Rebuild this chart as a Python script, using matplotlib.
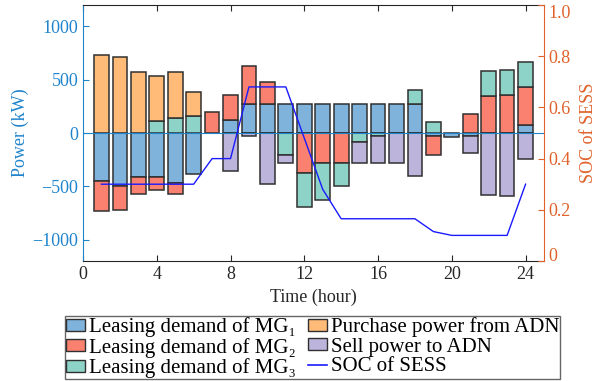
import numpy as np
import matplotlib
matplotlib.use("Agg")
import matplotlib.pyplot as plt
from matplotlib.patches import Patch
from matplotlib.lines import Line2D

plt.rcParams['font.family'] = ['Liberation Serif', 'DejaVu Serif']

hours = list(range(1, 25))
mg1 = [-446, -493, -415, -415, -468, -381, 0, 122, 275, 275, 275, 275,
       275, 275, 275, 275, 275, 275, -28, -35, -25, 0, 0, 75]
mg2 = [-281, -225, -153, -122, -103, 0, 200, 231, 355, 202, 0, -374,
       -281, -281, 0, 0, 0, 0, -181, 0, 175, 343, 353, 356]
mg3 = [0, 0, 0, 109, 137, 159, 0, 0, 0, 0, -203, -322,
       -346, -218, -87, -25, 0, 131, 106, 0, 0, 234, 234, 230]
purchase = [727, 714, 568, 424, 437, 225, 0, 0, 0, 0, 0, 0,
            0, 0, 0, 0, 0, 0, 0, 0, 0, 0, 0, 0]
sell = [0, 0, 0, 0, 0, 0, 0, -353, -31, -477, -78, 0,
        0, 0, -194, -256, -281, -406, 0, 0, -159, -577, -587, -243]
soc = [0.30, 0.30, 0.30, 0.30, 0.30, 0.30, 0.40, 0.40, 0.68, 0.68, 0.68, 0.48,
       0.28, 0.165, 0.165, 0.165, 0.165, 0.165, 0.115, 0.10, 0.10, 0.10, 0.10, 0.30]

labels = ['Leasing demand of MG\u2081', 'Leasing demand of MG\u2082',
          'Leasing demand of MG\u2083', 'Purchase power from ADN',
          'Sell power to ADN']
soc_label = 'SOC of SESS'
colors = ['#7fb3dc', '#fa8070', '#8dd3c7', '#ffbb77', '#bdb4dc']
series = [mg1, mg2, mg3, purchase, sell]

BLUE = '#1f84cc'
ORANGE = '#e0622a'
EDGE = '#303030'
FS = 13
LFS = 15

fig = plt.figure(figsize=(6.13, 3.81), dpi=100)
ax = fig.add_axes([83/613, 1-261/381, (544-83)/613, (261-5)/381])

x = np.array(hours, dtype=float)
pos_b = np.zeros(len(x))
neg_b = np.zeros(len(x))
for vals, c in zip(series, colors):
    v = np.array(vals, dtype=float)
    bottom = np.where(v >= 0, pos_b, neg_b)
    m = v != 0
    ax.bar(x[m], v[m], width=0.8, bottom=bottom[m], color=c,
           edgecolor=EDGE, linewidth=1.1, zorder=2)
    pos_b = pos_b + np.where(v > 0, v, 0)
    neg_b = neg_b + np.where(v < 0, v, 0)

ax.axhline(0, color=BLUE, lw=0.8, zorder=3)
ax.set_xlim(0, 25)
ax.set_ylim(-1200, 1200)
ax.set_xticks([0, 4, 8, 12, 16, 20, 24])
ax.set_yticks([-1000, -500, 0, 500, 1000])
ax.set_yticklabels(['\u22121000', '\u2212500', '0', '500', '1000'])
ax.tick_params(axis='y', colors=BLUE, labelsize=FS, direction='in', length=4)
ax.tick_params(axis='x', colors='#262626', labelsize=FS, direction='in',
               length=4, top=True)
ax.set_xlabel('Time (hour)', fontsize=FS, color='#262626', labelpad=4)
ax.set_ylabel('Power (kW)', fontsize=FS, color=BLUE, labelpad=2)
ax.spines['left'].set_color(BLUE)
ax.spines['right'].set_visible(False)
ax.spines['top'].set_color('#262626')
ax.spines['bottom'].set_color('#262626')

ax2 = ax.twinx()
ax2.plot(hours, soc, color='#1a1aff', lw=1.0, zorder=4)
ax2.set_ylim(0, 1)
ax2.set_yticks([0, 0.2, 0.4, 0.6, 0.8, 1.0])
ax2.set_yticklabels(['0', '0.2', '0.4', '0.6', '0.8', '1.0'])
ax2.tick_params(axis='y', colors=ORANGE, labelsize=FS, direction='in', length=4)
ax2.set_ylabel('SOC of SESS', fontsize=FS, color=ORANGE, labelpad=6)
ax2.spines['right'].set_color(ORANGE)
ax2.spines['left'].set_visible(False)
ax2.spines['top'].set_visible(False)
ax2.spines['bottom'].set_visible(False)
ticks2 = ax2.yaxis.get_major_ticks()
ticks2[-1].label2.set_va('top')
ticks2[0].label2.set_va('baseline')

handles = [Patch(facecolor=colors[0], edgecolor=EDGE, label=labels[0]),
           Patch(facecolor=colors[1], edgecolor=EDGE, label=labels[1]),
           Patch(facecolor=colors[2], edgecolor=EDGE, label=labels[2]),
           Patch(facecolor=colors[3], edgecolor=EDGE, label=labels[3]),
           Patch(facecolor=colors[4], edgecolor=EDGE, label=labels[4]),
           Line2D([0], [0], color='#1a1aff', lw=1.2, label=soc_label)]
leg = fig.legend(handles=handles, ncol=2, loc='lower center',
                 bbox_to_anchor=(0.5098, 0.005), fontsize=LFS, frameon=True,
                 fancybox=False, edgecolor='#404040', handlelength=0.9,
                 handleheight=0.52, handletextpad=0.19, columnspacing=0.6,
                 labelspacing=0.03, borderpad=0.05, borderaxespad=0.0)
leg.get_frame().set_linewidth(1.0)

fig.savefig('out.png', dpi=100)
